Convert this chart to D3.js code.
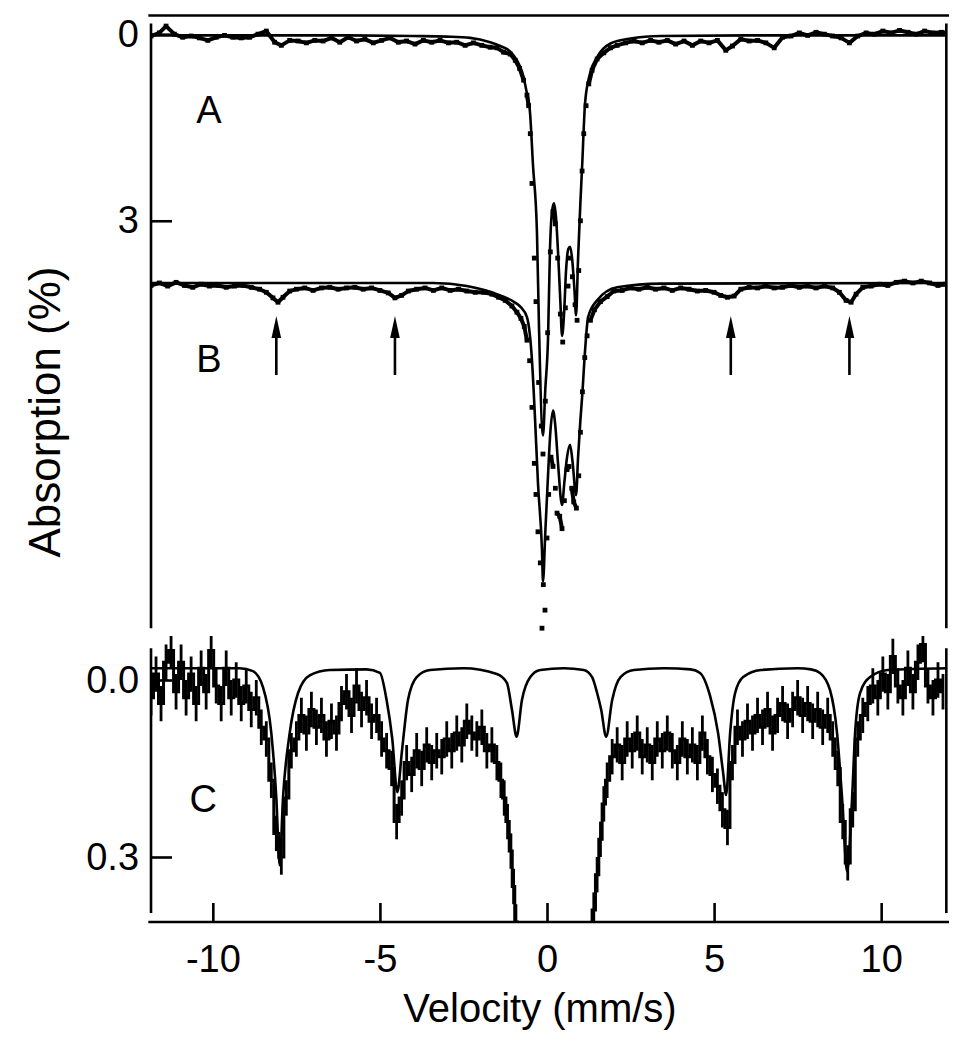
<!DOCTYPE html>
<html>
<head>
<meta charset="utf-8">
<script src="https://cdn.jsdelivr.net/npm/d3@7"></script>
<style>
body { margin: 0; background: #fff; }
svg text { font-family: "Liberation Sans", Arial, sans-serif; fill: #000; }
</style>
</head>
<body>
<div id="chart"></div>
<script>

// ---- data (velocity mm/s, absorption %) ----

// spectrum A, measured points
var dataA = [
  [-11.85,0.03],[-11.6,-0.02],[-11.4,-0.13],[-11.15,0.0],[-10.9,0.05],[-10.65,0.03],[-10.4,0.06],
  [-10.15,0.1],[-9.9,0.05],[-9.65,0.02],[-9.4,0.05],[-9.15,0.06],[-8.9,0.05],[-8.65,0.0],[-8.4,-0.05],
  [-8.15,0.13],[-7.95,0.18],[-7.7,0.1],[-7.45,0.11],[-7.2,0.14],[-6.95,0.1],[-6.7,0.11],[-6.45,0.06],
  [-6.2,0.13],[-5.95,0.05],[-5.7,0.11],[-5.45,0.08],[-5.2,0.14],[-4.95,0.1],[-4.7,0.06],[-4.45,0.13],
  [-4.2,0.11],[-3.95,0.16],[-3.7,0.1],[-3.45,0.13],[-3.2,0.1],[-2.95,0.14],[-2.7,0.13],[-2.45,0.18],
  [-2.2,0.14],[-1.95,0.18],[-1.7,0.21],[-1.5,0.22],[-1.3,0.29],[-1.1,0.32],[-0.95,0.42],[-0.82,0.55],
  [-0.7,0.74],[-0.6,0.98],[-0.55,1.15],[-0.5,1.6],[-0.45,2.4],[-0.38,3.6],[-0.33,4.3],[-0.25,5.6],
  [-0.17,6.3],[-0.12,6.75],[-0.05,5.9],[0.02,4.8],[0.1,3.5],[0.18,2.85],[0.25,3.05],[0.32,3.6],
  [0.4,4.5],[0.47,4.95],[0.55,4.4],[0.63,4.05],[0.69,3.6],[0.76,3.9],[0.84,4.35],[0.9,4.6],[0.95,3.8],
  [1.0,3.0],[1.05,2.2],[1.1,1.6],[1.17,1.15],[1.25,0.8],[1.35,0.58],[1.5,0.4],[1.7,0.3],[1.9,0.22],
  [2.1,0.18],[2.35,0.14],[2.6,0.11],[2.85,0.14],[3.1,0.1],[3.35,0.13],[3.6,0.1],[3.85,0.16],[4.1,0.11],
  [4.35,0.18],[4.6,0.11],[4.85,0.14],[5.1,0.1],[5.35,0.26],[5.55,0.19],[5.8,0.08],[6.05,0.11],[6.3,0.1],
  [6.55,0.14],[6.8,0.22],[7.05,0.05],[7.3,0.03],[7.55,-0.02],[7.8,0.02],[8.05,-0.03],[8.3,0.0],[8.55,0.03],
  [8.8,0.06],[9.05,0.14],[9.3,0.03],[9.55,-0.02],[9.8,0.0],[10.05,-0.05],[10.3,-0.02],[10.55,-0.06],
  [10.8,-0.03],[11.05,0.0],[11.3,-0.05],[11.55,-0.02],[11.8,-0.03],[11.92,-0.02]
];

// spectrum A, fitted curve
var fitA = [
  [-12,0.02],[-6,0.02],[-4,0.03],[-3,0.04],[-2.3,0.06],[-1.7,0.13],[-1.4,0.19],[-1.1,0.28],[-0.9,0.42],
  [-0.75,0.6],[-0.62,0.9],[-0.51,1.25],[-0.42,2.1],[-0.3,3.2],[-0.24,4.7],[-0.12,6.45],[-0.05,5.7],
  [0.03,4.9],[0.09,3.45],[0.15,2.85],[0.21,2.72],[0.27,2.95],[0.33,3.5],[0.4,4.3],[0.45,4.85],[0.51,4.5],
  [0.57,3.8],[0.64,3.45],[0.69,3.42],[0.75,3.6],[0.82,4.1],[0.87,4.52],[0.93,3.6],[1.0,2.7],[1.05,2.14],
  [1.14,1.1],[1.29,0.63],[1.5,0.37],[1.9,0.15],[2.5,0.07],[3.4,0.03],[6,0.02],[12,0.02]
];

// spectrum B, measured points
var dataB = [
  [-11.85,4.04],[-11.6,4.0],[-11.35,4.05],[-11.1,3.99],[-10.85,4.04],[-10.6,4.07],[-10.35,4.02],
  [-10.1,4.05],[-9.85,4.04],[-9.6,4.07],[-9.35,4.05],[-9.1,4.04],[-8.85,4.07],[-8.6,4.1],[-8.4,4.15],
  [-8.2,4.24],[-8.05,4.31],[-7.9,4.23],[-7.7,4.13],[-7.5,4.1],[-7.25,4.08],[-7.0,4.12],[-6.75,4.08],
  [-6.5,4.07],[-6.25,4.1],[-6.0,4.08],[-5.75,4.07],[-5.5,4.1],[-5.25,4.08],[-5.0,4.12],[-4.75,4.16],
  [-4.55,4.24],[-4.35,4.2],[-4.15,4.13],[-3.9,4.1],[-3.65,4.08],[-3.4,4.12],[-3.15,4.08],[-2.9,4.12],
  [-2.65,4.1],[-2.4,4.13],[-2.15,4.15],[-1.9,4.15],[-1.65,4.18],[-1.45,4.23],[-1.25,4.28],[-1.05,4.37],
  [-0.9,4.47],[-0.78,4.57],[-0.68,4.7],[-0.6,4.92],[-0.52,5.25],[-0.45,6.0],[-0.38,6.9],[-0.33,7.4],
  [-0.27,8.0],[-0.2,8.5],[-0.15,9.55],[-0.11,8.85],[-0.06,9.26],[0.0,8.1],[0.05,7.4],[0.12,6.8],
  [0.18,6.95],[0.25,7.3],[0.3,7.7],[0.38,7.75],[0.45,7.95],[0.52,7.5],[0.6,7.0],[0.66,6.95],[0.74,7.3],
  [0.8,7.52],[0.88,7.62],[0.95,7.1],[1.0,6.4],[1.06,5.75],[1.13,5.2],[1.2,4.85],[1.3,4.6],[1.42,4.43],
  [1.6,4.3],[1.8,4.22],[2.0,4.13],[2.25,4.12],[2.5,4.08],[2.75,4.1],[3.0,4.07],[3.25,4.1],[3.5,4.08],
  [3.75,4.12],[4.0,4.08],[4.25,4.1],[4.5,4.13],[4.75,4.12],[5.0,4.15],[5.2,4.2],[5.4,4.23],[5.6,4.21],
  [5.8,4.1],[6.05,4.07],[6.3,4.08],[6.55,4.05],[6.8,4.08],[7.05,4.07],[7.3,4.04],[7.55,4.07],[7.8,4.05],
  [8.05,4.08],[8.3,4.05],[8.55,4.08],[8.75,4.15],[8.95,4.28],[9.1,4.31],[9.25,4.18],[9.45,4.07],
  [9.7,4.05],[9.95,4.02],[10.2,4.04],[10.45,3.99],[10.7,3.97],[10.95,4.0],[11.2,3.97],[11.45,4.0],
  [11.7,4.04],[11.92,4.02]
];

// spectrum B, fitted curve
var fitB = [
  [-12,4.0],[-3.4,4.0],[-2.4,4.05],[-1.4,4.2],[-1.0,4.3],[-0.8,4.38],[-0.6,4.55],[-0.45,5.24],
  [-0.36,6.16],[-0.27,7.22],[-0.15,8.3],[-0.12,8.8],[-0.05,8.0],[0.03,7.1],[0.1,6.4],[0.18,6.05],
  [0.25,6.3],[0.33,6.9],[0.45,7.57],[0.52,7.2],[0.6,6.8],[0.69,6.6],[0.76,6.85],[0.87,7.41],[0.93,6.8],
  [1.0,6.2],[1.05,5.84],[1.14,5.08],[1.23,4.55],[1.5,4.28],[2.1,4.07],[3.4,4.01],[12,4.0]
];

// spectrum C (difference), measured points
var dataC = [
  [-11.85,0.03],[-11.7,-0.01],[-11.55,0.04],[-11.4,-0.03],[-11.25,-0.05],[-11.1,0.02],[-10.95,-0.03],
  [-10.8,0.03],[-10.65,-0.01],[-10.5,0.04],[-10.35,-0.02],[-10.2,0.02],[-10.05,-0.05],[-9.9,0.01],
  [-9.75,0.04],[-9.6,-0.02],[-9.45,0.03],[-9.3,0.0],[-9.15,0.04],[-9.0,0.01],[-8.85,0.05],[-8.7,0.03],
  [-8.55,0.08],[-8.4,0.1],[-8.25,0.17],[-8.1,0.26],[-7.95,0.3],[-7.8,0.2],[-7.65,0.12],[-7.5,0.1],
  [-7.35,0.06],[-7.2,0.09],[-7.05,0.05],[-6.9,0.08],[-6.75,0.06],[-6.6,0.1],[-6.45,0.07],[-6.3,0.09],
  [-6.15,0.04],[-6.0,0.02],[-5.85,0.06],[-5.7,0.01],[-5.55,0.05],[-5.4,0.03],[-5.25,0.07],[-5.1,0.06],
  [-4.95,0.1],[-4.8,0.12],[-4.65,0.15],[-4.5,0.24],[-4.35,0.2],[-4.2,0.14],[-4.05,0.16],[-3.9,0.12],
  [-3.75,0.15],[-3.6,0.11],[-3.45,0.14],[-3.3,0.12],[-3.15,0.13],[-3.0,0.1],[-2.85,0.12],[-2.7,0.09],
  [-2.55,0.11],[-2.4,0.07],[-2.25,0.09],[-2.1,0.1],[-1.95,0.08],[-1.8,0.12],[-1.65,0.11],[-1.5,0.14],
  [-1.38,0.17],[-1.28,0.2],[-1.18,0.24],[-1.08,0.29],[-1.0,0.35],[-0.93,0.41],[-0.85,0.5],
  [1.3,0.5],[1.4,0.39],[1.5,0.33],[1.6,0.27],[1.7,0.21],[1.8,0.17],[1.95,0.13],[2.1,0.11],[2.25,0.14],
  [2.4,0.1],[2.55,0.12],[2.7,0.09],[2.85,0.13],[3.0,0.11],[3.15,0.14],[3.3,0.1],[3.45,0.12],[3.6,0.09],
  [3.75,0.12],[3.9,0.14],[4.05,0.1],[4.2,0.13],[4.35,0.11],[4.5,0.14],[4.65,0.09],[4.8,0.13],[4.95,0.16],
  [5.1,0.18],[5.25,0.22],[5.4,0.25],[5.55,0.14],[5.7,0.08],[5.85,0.1],[6.0,0.07],[6.15,0.09],[6.3,0.06],
  [6.45,0.08],[6.6,0.05],[6.75,0.09],[6.9,0.06],[7.05,0.04],[7.2,0.07],[7.35,0.05],[7.5,0.03],[7.65,0.06],
  [7.8,0.04],[7.95,0.07],[8.1,0.05],[8.25,0.08],[8.4,0.06],[8.55,0.1],[8.7,0.15],[8.85,0.24],[9.0,0.31],
  [9.15,0.22],[9.3,0.1],[9.45,0.06],[9.6,0.04],[9.75,0.01],[9.9,0.03],[10.05,-0.01],[10.2,0.02],
  [10.35,-0.04],[10.5,0.01],[10.65,0.03],[10.8,-0.02],[10.95,0.02],[11.1,-0.03],[11.25,-0.06],
  [11.4,0.01],[11.55,0.03],[11.7,0.0],[11.85,0.02]
];
var errC = 0.03;

// spectrum C, fitted sextet
var fitC = [
  [-12,-0.02],[-9.2,-0.02],[-8.8,-0.015],[-8.5,0.012],[-8.25,0.09],[-8.1,0.2],[-8.0,0.314],[-7.9,0.2],
  [-7.7,0.09],[-7.45,0.022],[-7.1,-0.008],[-6.5,-0.017],[-5.4,-0.018],[-5.0,-0.012],[-4.8,0.034],
  [-4.63,0.1],[-4.48,0.19],[-4.34,0.12],[-4.16,0.034],[-3.9,-0.005],[-3.5,-0.017],[-2.5,-0.02],
  [-1.5,-0.01],[-1.2,0.005],[-1.05,0.05],[-0.91,0.096],[-0.75,0.034],[-0.5,-0.005],[-0.2,-0.017],
  [0.5,-0.02],[1.1,-0.017],[1.35,-0.005],[1.5,0.022],[1.62,0.05],[1.77,0.096],[1.95,0.034],[2.2,-0.005],
  [2.6,-0.017],[3.5,-0.02],[4.3,-0.018],[4.58,-0.012],[4.88,0.027],[5.12,0.09],[5.27,0.157],[5.36,0.195],
  [5.48,0.09],[5.63,0.022],[5.87,-0.005],[6.4,-0.017],[7.5,-0.02],[7.9,-0.018],[8.17,-0.012],[8.47,0.017],
  [8.68,0.09],[8.83,0.2],[8.98,0.325],[9.13,0.2],[9.22,0.09],[9.37,0.022],[9.67,-0.005],[10.2,-0.017],[12,-0.02]
];

// arrows marking the weak sextet in B
var arrowVel = [-8.1, -4.55, 5.5, 9.05];
var arrowTip = 4.53, arrowTail = 5.48;

// ticks
var xTicks = [-10, -5, 0, 5, 10];
var yTopTicks = [0, 3];
var yTopLabels = ["0", "3"];
var yCTicks = [0, 0.3];
var yCLabels = ["0.0", "0.3"];

// ---- layout ----
var width = 974, height = 1050;
var svg = d3.select("#chart").append("svg")
    .attr("width", width)
    .attr("height", height);

var x = d3.scaleLinear().domain([-12, 12]).range([146, 948]);
var yTop = d3.scaleLinear().domain([-0.3, 9.6]).range([15.5, 631.3]);
var yC = d3.scaleLinear().domain([0, 0.3]).range([680, 857]);

var xLeft = x(-11.85), xRight = x(11.95);
var topY0 = yTop(-0.17), topY1 = yTop(9.55);
var cY0 = yC(-0.054), cY1 = yC(0.395);
var axisY = 922;

// clip regions
var defs = svg.append("defs");
defs.append("clipPath").attr("id", "clipTop").append("rect")
    .attr("x", xLeft).attr("y", 15).attr("width", xRight - xLeft).attr("height", 618);
defs.append("clipPath").attr("id", "clipC").append("rect")
    .attr("x", xLeft).attr("y", 636).attr("width", xRight - xLeft).attr("height", axisY - 636);

// ---- frame ----
var frame = svg.append("g").attr("stroke", "#000").attr("stroke-width", 2.6).attr("fill", "none");
frame.append("line").attr("x1", x(-11.93)).attr("x2", x(12.03)).attr("y1", yTop(-0.3)).attr("y2", yTop(-0.3));
frame.append("line").attr("x1", x(-11.93)).attr("x2", x(12.03)).attr("y1", axisY).attr("y2", axisY);
[xLeft, xRight].forEach(function(xx){
    frame.append("line").attr("x1", xx).attr("x2", xx).attr("y1", topY0).attr("y2", topY1);
    frame.append("line").attr("x1", xx).attr("x2", xx).attr("y1", cY0).attr("y2", cY1);
});

// ---- axes ----
function styleAxis(g){
    g.select(".domain").remove();
    g.selectAll(".tick line").attr("stroke", "#000").attr("stroke-width", 2.6);
    g.selectAll(".tick text")
        .attr("font-family", "Liberation Sans, Arial, sans-serif")
        .attr("font-size", 38)
        .attr("fill", "#000");
}

svg.append("g")
    .attr("transform", "translate(0," + axisY + ")")
    .call(d3.axisBottom(x).tickValues(xTicks).tickSize(-19).tickPadding(23)
        .tickFormat(function(d){ return String(d); }))
    .call(styleAxis);

svg.append("g")
    .attr("transform", "translate(" + xLeft + ",0)")
    .call(d3.axisLeft(yTop).tickValues(yTopTicks).tickSize(-21).tickPadding(12)
        .tickFormat(function(d, i){ return yTopLabels[i]; }))
    .call(styleAxis);

svg.append("g")
    .attr("transform", "translate(" + xLeft + ",0)")
    .call(d3.axisLeft(yC).tickValues(yCTicks).tickSize(-21).tickPadding(12)
        .tickFormat(function(d, i){ return yCLabels[i]; }))
    .call(styleAxis);

// ---- top panel: spectra A and B ----
var gTop = svg.append("g").attr("clip-path", "url(#clipTop)");

function drawPoints(g, pts){
    // join neighbouring channels where the spectrum is flat, isolated squares where it is steep
    var segs = d3.pairs(pts).filter(function(p){
        return Math.abs(yTop(p[1][1]) - yTop(p[0][1])) < 14;
    });
    g.append("g").selectAll("line").data(segs).join("line")
        .attr("x1", function(p){ return x(p[0][0]); })
        .attr("y1", function(p){ return yTop(p[0][1]); })
        .attr("x2", function(p){ return x(p[1][0]); })
        .attr("y2", function(p){ return yTop(p[1][1]); })
        .attr("stroke", "#000").attr("stroke-width", 4);
    g.append("g").selectAll("rect").data(pts).join("rect")
        .attr("x", function(d){ return x(d[0]) - 2.4; })
        .attr("y", function(d){ return yTop(d[1]) - 2.4; })
        .attr("width", 4.8).attr("height", 4.8)
        .attr("fill", "#000");
}

drawPoints(gTop, dataA);
drawPoints(gTop, dataB);

var fitLineTop = d3.line()
    .x(function(d){ return x(d[0]); })
    .y(function(d){ return yTop(d[1]); })
    .curve(d3.curveMonotoneX);

[fitA, fitB].forEach(function(f){
    gTop.append("path").datum(f)
        .attr("d", fitLineTop)
        .attr("fill", "none").attr("stroke", "#000").attr("stroke-width", 2.6);
});

// arrows
var arrows = svg.append("g").selectAll("g").data(arrowVel).join("g");
arrows.append("line")
    .attr("x1", function(d){ return x(d); }).attr("x2", function(d){ return x(d); })
    .attr("y1", yTop(arrowTip) + 16).attr("y2", yTop(arrowTail))
    .attr("stroke", "#000").attr("stroke-width", 2.6);
arrows.append("path")
    .attr("d", function(d){
        var xx = x(d), yy = yTop(arrowTip);
        return "M" + xx + "," + yy + "L" + (xx - 4.8) + "," + (yy + 22) + "L" + (xx + 4.8) + "," + (yy + 22) + "Z";
    })
    .attr("fill", "#000");

// ---- bottom panel: spectrum C ----
var gC = svg.append("g").attr("clip-path", "url(#clipC)");

var leftC = dataC.filter(function(d){ return d[0] < 0; });
var rightC = dataC.filter(function(d){ return d[0] > 0; });

var stepLine = d3.line()
    .x(function(d){ return x(d[0]); })
    .y(function(d){ return yC(d[1]); })
    .curve(d3.curveStep);

[leftC, rightC].forEach(function(seg){
    gC.append("path").datum(seg)
        .attr("d", stepLine)
        .attr("fill", "none").attr("stroke", "#000").attr("stroke-width", 3);
});

gC.append("g").selectAll("line").data(dataC).join("line")
    .attr("x1", function(d){ return x(d[0]); }).attr("x2", function(d){ return x(d[0]); })
    .attr("y1", function(d){ return yC(d[1] - errC); })
    .attr("y2", function(d){ return yC(d[1] + errC); })
    .attr("stroke", "#000").attr("stroke-width", 2.8);

var fitLineC = d3.line()
    .x(function(d){ return x(d[0]); })
    .y(function(d){ return yC(d[1]); })
    .curve(d3.curveMonotoneX);

gC.append("path").datum(fitC)
    .attr("d", fitLineC)
    .attr("fill", "none").attr("stroke", "#000").attr("stroke-width", 2.6);

// ---- labels ----
svg.append("text").attr("x", x(-10.5)).attr("y", yTop(1.43)).attr("font-size", 38).text("A");
svg.append("text").attr("x", x(-10.5)).attr("y", yTop(5.43)).attr("font-size", 38).text("B");
svg.append("text").attr("x", x(-10.7)).attr("y", yC(0.2237)).attr("font-size", 38).text("C");

svg.append("text")
    .attr("transform", "translate(60,412) rotate(-90)")
    .attr("text-anchor", "middle")
    .attr("font-size", 44)
    .text("Absorption (%)");

svg.append("text")
    .attr("x", 540).attr("y", 1022)
    .attr("text-anchor", "middle")
    .attr("font-size", 40)
    .text("Velocity (mm/s)");

</script>
</body>
</html>
